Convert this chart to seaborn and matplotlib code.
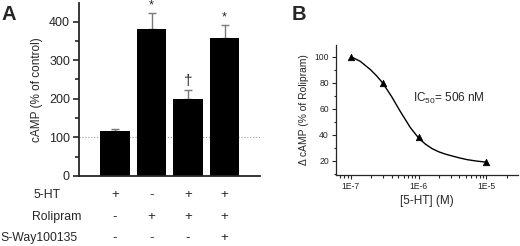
import numpy as np
import matplotlib
matplotlib.use('Agg')
import matplotlib.pyplot as plt
import matplotlib.transforms as mtransforms
from matplotlib.ticker import MultipleLocator, FixedLocator, FuncFormatter, LogLocator, NullFormatter
import seaborn as sns

# panel A: cAMP bars
groups = ['g1', 'g2', 'g3', 'g4']
camp = [117, 380, 200, 357]
camp_err = [6, 41, 24, 33]
marks = ['', '*', '\u2020', '*']
row_names = ['5-HT', 'Rolipram', 'S-Way100135']
row_ht = ['+', '-', '+', '+']
row_roli = ['-', '+', '+', '+']
row_sway = ['-', '-', '-', '+']

# panel B: dose response
conc = [1e-7, 3e-7, 1e-6, 1e-5]
delta_camp = [100, 80, 38, 19]
fit_logx = [-7.0, -6.86, -6.71, -6.62, -6.53, -6.40, -6.27, -6.12, -6.0,
            -5.9, -5.8, -5.7, -5.6, -5.5, -5.4, -5.28, -5.14, -5.0]
fit_y = [100, 96.4, 90.0, 85.3, 79.8, 69.5, 57.9, 45.4, 37.5,
         32.8, 29.3, 26.8, 25.0, 23.6, 22.2, 20.8, 19.7, 18.9]

sns.set_style('ticks')
plt.rcParams['font.family'] = ['Liberation Sans', 'DejaVu Sans']
plt.rcParams['mathtext.default'] = 'regular'

W, H = 520, 246
fig = plt.figure(figsize=(W / 100, H / 100), dpi=100)

# ---- panel A
ax1 = fig.add_axes([79 / W, 1 - 176 / H, (260 - 79) / W, (176 - 3) / H])
sns.barplot(x=groups, y=camp, color='black', saturation=1, width=0.8,
            errorbar=None, linewidth=0, ax=ax1, zorder=2)
ax1.errorbar(range(len(groups)), camp, yerr=[np.zeros(len(camp)), camp_err],
             fmt='none', ecolor='#7a7a7a', elinewidth=1, capsize=3, capthick=1, zorder=1.5)
ax1.axhline(100, color='#999999', ls=':', lw=0.8, zorder=1)
for i, m in enumerate(marks):
    if m:
        fs = 11 if m == '\u2020' else 9
        ax1.text(i, camp[i] + camp_err[i] + 4, m, ha='center', va='bottom', fontsize=fs)

ax1.set_xlim(-0.986, 3.97)
ax1.set_ylim(0, 448)
ax1.yaxis.set_major_locator(MultipleLocator(100))
ax1.yaxis.set_minor_locator(MultipleLocator(50))
ax1.tick_params(axis='y', which='major', length=4.5, width=1.2, labelsize=9, pad=2)
ax1.tick_params(axis='y', which='minor', length=3, width=1.2)
ax1.tick_params(axis='x', length=0, labelbottom=False)
ax1.set_xlabel('')
ax1.set_ylabel('cAMP (% of control)', fontsize=8.5, labelpad=4)
for s in ['left', 'bottom']:
    ax1.spines[s].set_linewidth(1.3)
sns.despine(ax=ax1)

trans = mtransforms.blended_transform_factory(ax1.transData, fig.transFigure)
row_y = [1 - 195 / H, 1 - 217 / H, 1 - 238 / H]
row_x = [33 / W, 32 / W, 0 / W]
for name, vals, y, x in zip(row_names, [row_ht, row_roli, row_sway], row_y, row_x):
    fig.text(x, y, name, ha='left', va='center', fontsize=8.8)
    for i, v in enumerate(vals):
        ax1.text(i, y, v, transform=trans, ha='center', va='center', fontsize=9.5)

fig.text(2 / W, 1 - 5 / H, 'A', fontsize=14.5, fontweight='bold', va='top', ha='left')

# ---- panel B
ax2 = fig.add_axes([336 / W, 1 - 175 / H, (518 - 336) / W, (175 - 45) / H])
ax2.set_xscale('log')
sns.lineplot(x=10 ** np.array(fit_logx), y=fit_y, color='black', lw=1, ax=ax2)
sns.scatterplot(x=conc, y=delta_camp, marker='^', color='black', s=22,
                edgecolor='black', linewidth=0.5, ax=ax2, zorder=3)
ax2.set_xlim(10 ** -7.22, 10 ** -4.53)
ax2.set_ylim(9, 109)
ax2.xaxis.set_major_locator(FixedLocator([1e-7, 1e-6, 1e-5]))
ax2.xaxis.set_major_formatter(FuncFormatter(lambda v, _: '1E%d' % round(np.log10(v))))
ax2.xaxis.set_minor_locator(LogLocator(base=10, subs=np.arange(2, 10)))
ax2.xaxis.set_minor_formatter(NullFormatter())
ax2.yaxis.set_major_locator(MultipleLocator(20))
ax2.yaxis.set_minor_locator(MultipleLocator(10))
ax2.tick_params(which='major', length=3, width=0.8, labelsize=6.2, pad=2)
ax2.tick_params(which='minor', length=1.8, width=0.8)
ax2.set_xlabel('[5-HT] (M)', fontsize=8.5, labelpad=3)
ax2.set_ylabel('\u0394 cAMP (% of Rolipram)', fontsize=7.4, labelpad=4)
for s in ['left', 'bottom']:
    ax2.spines[s].set_linewidth(0.9)
sns.despine(ax=ax2)
ax2.text(0.423, 0.592, 'IC$_{50}$= 506 nM', transform=ax2.transAxes,
         ha='left', va='center', fontsize=8.5)

fig.text(292 / W, 1 - 5 / H, 'B', fontsize=14.5, fontweight='bold', va='top', ha='left')

fig.savefig('out.png', dpi=100)
